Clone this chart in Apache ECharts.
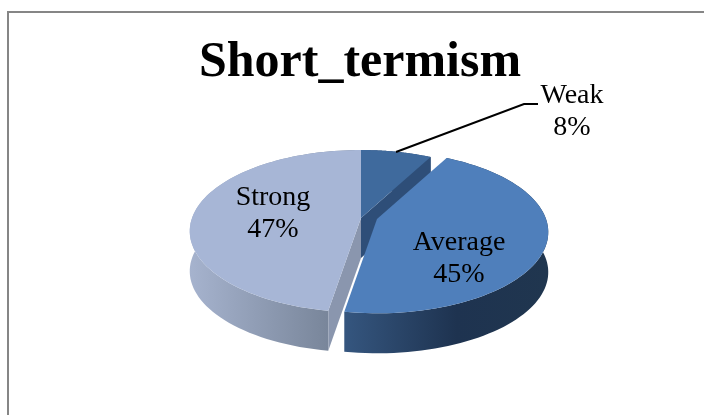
<!DOCTYPE html>
<html><head><meta charset="utf-8">
<style>html,body{margin:0;padding:0;background:#fff}#c{width:704px;height:415px}</style>
<script src="https://cdn.jsdelivr.net/npm/echarts@6/dist/echarts.min.js"></script>
</head><body><div id="c"></div>
<script>
const categories = ['Weak', 'Average', 'Strong'];
const values = [7.8, 44.8, 47.4];

const topColors = ['#3F6A9D', '#4F7FBB', '#A7B6D6'];
const cutColors = ['#2E4E78', null, '#8A96AE'];
const wallStops = [
  [[0, '#2E4E78'], [1, '#2E4E78']],
  [[0, '#35567F'], [0.55, '#1E3350'], [1, '#20364F']],
  [[0, '#A6B3CE'], [1, '#6E7B8E']]
];
const zOrder = [1, 3, 2];
const offsets = [[361, 218], [377, 219], [361, 218]];
const labelPos = [[572, 112], [459, 259], [273, 214]];
const R = 169, RY = 79, P = 0.162, H = 40;

const total = values.reduce((a, b) => a + b, 0);
function pt(c, th, dy) {
  const u = Math.sin(th), v = -Math.cos(th), s = 1 / (1 - P * v);
  return [c[0] + R * u * s, c[1] + RY * v * s + (dy || 0)];
}
function arc(c, a, b, dy) {
  const out = [], n = 80;
  for (let i = 0; i <= n; i++) out.push(pt(c, a + (b - a) * i / n, dy));
  return out;
}
function renderItem(params, api) {
  const i = params.dataIndex;
  const before = values.slice(0, i).reduce((a, b) => a + b, 0);
  const a = before / total * Math.PI * 2;
  const b = a + api.value(1) / total * Math.PI * 2;
  const c = offsets[i], z = zOrder[i];
  const top = arc(c, a, b, 0), bot = arc(c, a, b, H).reverse();
  const xs = top.map(p => p[0]);
  const grad = new echarts.graphic.LinearGradient(Math.min(...xs), 0, Math.max(...xs), 0,
    wallStops[i].map(s => ({ offset: s[0], color: s[1] })), true);
  const children = [];
  children.push({ type: 'polygon', z2: z, shape: { points: top.concat(bot) }, style: { fill: grad } });
  if (cutColors[i]) {
    const edge = i === 0 ? top[top.length - 1] : top[0];
    children.push({ type: 'polygon', z2: z, shape: { points: [c, edge, [edge[0], edge[1] + H], [c[0], c[1] + H]] }, style: { fill: cutColors[i] } });
  }
  children.push({ type: 'polygon', z2: z, shape: { points: [c].concat(top) }, style: { fill: topColors[i] } });
  children.push({ type: 'text', z2: 20, style: {
    x: labelPos[i][0], y: labelPos[i][1], text: categories[i] + '\n' + Math.round(api.value(1) / total * 100) + '%',
    fill: '#000', font: '28px "Liberation Serif"', lineHeight: 32, align: 'center', verticalAlign: 'middle'
  } });
  return { type: 'group', children };
}
const chart = echarts.init(document.getElementById('c'), null, { renderer: 'canvas' });
chart.setOption({
  animation: false,
  backgroundColor: '#fff',
  title: { text: 'Short_termism', left: 355, top: 33, textAlign: 'center',
    textStyle: { fontFamily: 'Liberation Serif', fontWeight: 'bold', fontSize: 50, color: '#000' } },
  graphic: [
    { type: 'rect', z: 0, shape: { x: 8, y: 12, width: 720, height: 430 }, style: { fill: '#fff', stroke: '#868686', lineWidth: 2 } },
    { type: 'polyline', z: 10, shape: { points: [[396, 152], [524, 104], [538, 104]] }, style: { fill: null, stroke: '#000', lineWidth: 2 } }
  ],
  series: [{
    type: 'custom', coordinateSystem: 'none', renderItem, z: 5,
    data: categories.map((n, i) => ({ name: n, value: [i, values[i]] }))
  }]
});
</script></body></html>
